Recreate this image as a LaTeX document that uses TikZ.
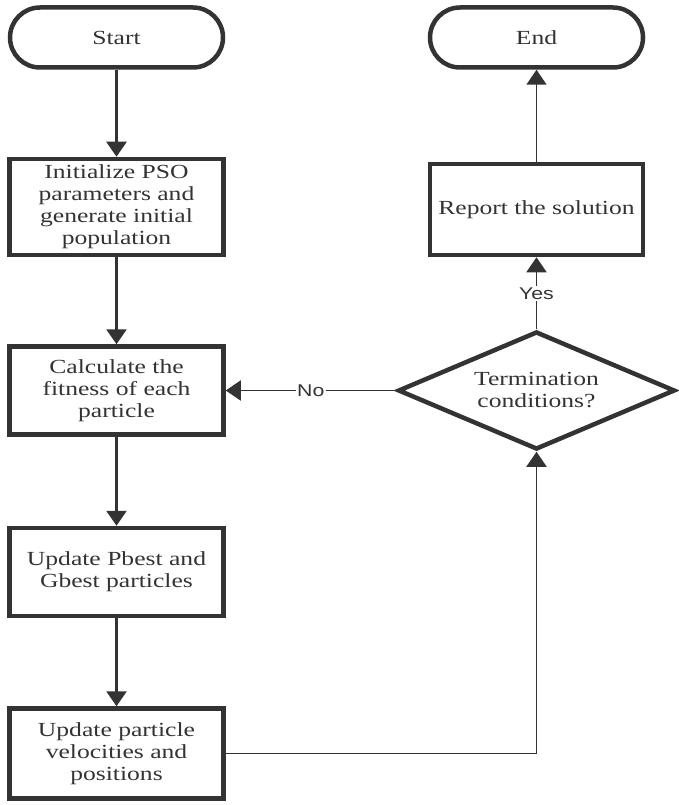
\documentclass[tikz,border=0pt]{standalone}
\usepackage{fontspec}
\setmainfont{Liberation Serif}[FakeStretch=1.28]
\setsansfont{Liberation Sans}[FakeStretch=1.25]
\usetikzlibrary{arrows.meta,positioning,shapes.geometric}
\definecolor{ink}{HTML}{333333}

\begin{document}
\begin{tikzpicture}[
    x=1pt, y=1pt,
    every node/.style={font=\fontsize{20}{22}\selectfont, text=ink},
    terminal/.style={draw=ink, line width=4.5pt, rounded corners=30pt, minimum width=213pt, minimum height=60pt},
    process/.style={draw=ink, line width=4.5pt, align=center, minimum width=214pt, minimum height=88pt},
    decision/.style={draw=ink, line width=4.5pt, diamond, align=center, minimum width=277pt, minimum height=118pt, aspect=2.3, inner sep=0pt},
    flow/.style={-{Triangle[length=15pt, width=20pt]}, draw=ink, line width=2.6pt},
    answer/.style={fill=white, inner sep=1.5pt, font=\sffamily\fontsize{17}{17}\selectfont}
]
\useasboundingbox (0,0) rectangle (679,-805);
\node[terminal] (start) at (116.5,-37.5) {Start};
\node[process, below=87pt of start, minimum height=96pt] (init) {Initialize PSO\\parameters and\\generate initial\\population};
\node[process, below=87pt of init] (fitness) {Calculate the\\fitness of each\\particle};
\node[process, below=89pt of fitness] (best) {Update Pbest and\\Gbest particles};
\node[process, below=88pt of best, minimum height=90pt] (move) {Update particle\\velocities and\\positions};
\node[decision, right=170pt of fitness] (check) {Termination\\conditions?};
\node[process, above=72pt of check, minimum height=91pt, minimum width=213pt] (report) {Report the solution};
\node[terminal, above=92pt of report] (end) {End};
\draw[flow] (start) -- (init);
\draw[flow] (init) -- (fitness);
\draw[flow] (fitness) -- (best);
\draw[flow] (best) -- (move);
\draw[flow, line width=1.8pt] (move.east) -| (check.south);
\draw[flow, line width=1.8pt] (check.west) -- node[answer] (no) {No} (fitness.east);
\draw[flow, line width=1.8pt] (check.north) -- node[answer] (yes) {Yes} (report.south);
\draw[flow, line width=1.8pt] (report) -- (end);
\end{tikzpicture}
\end{document}
